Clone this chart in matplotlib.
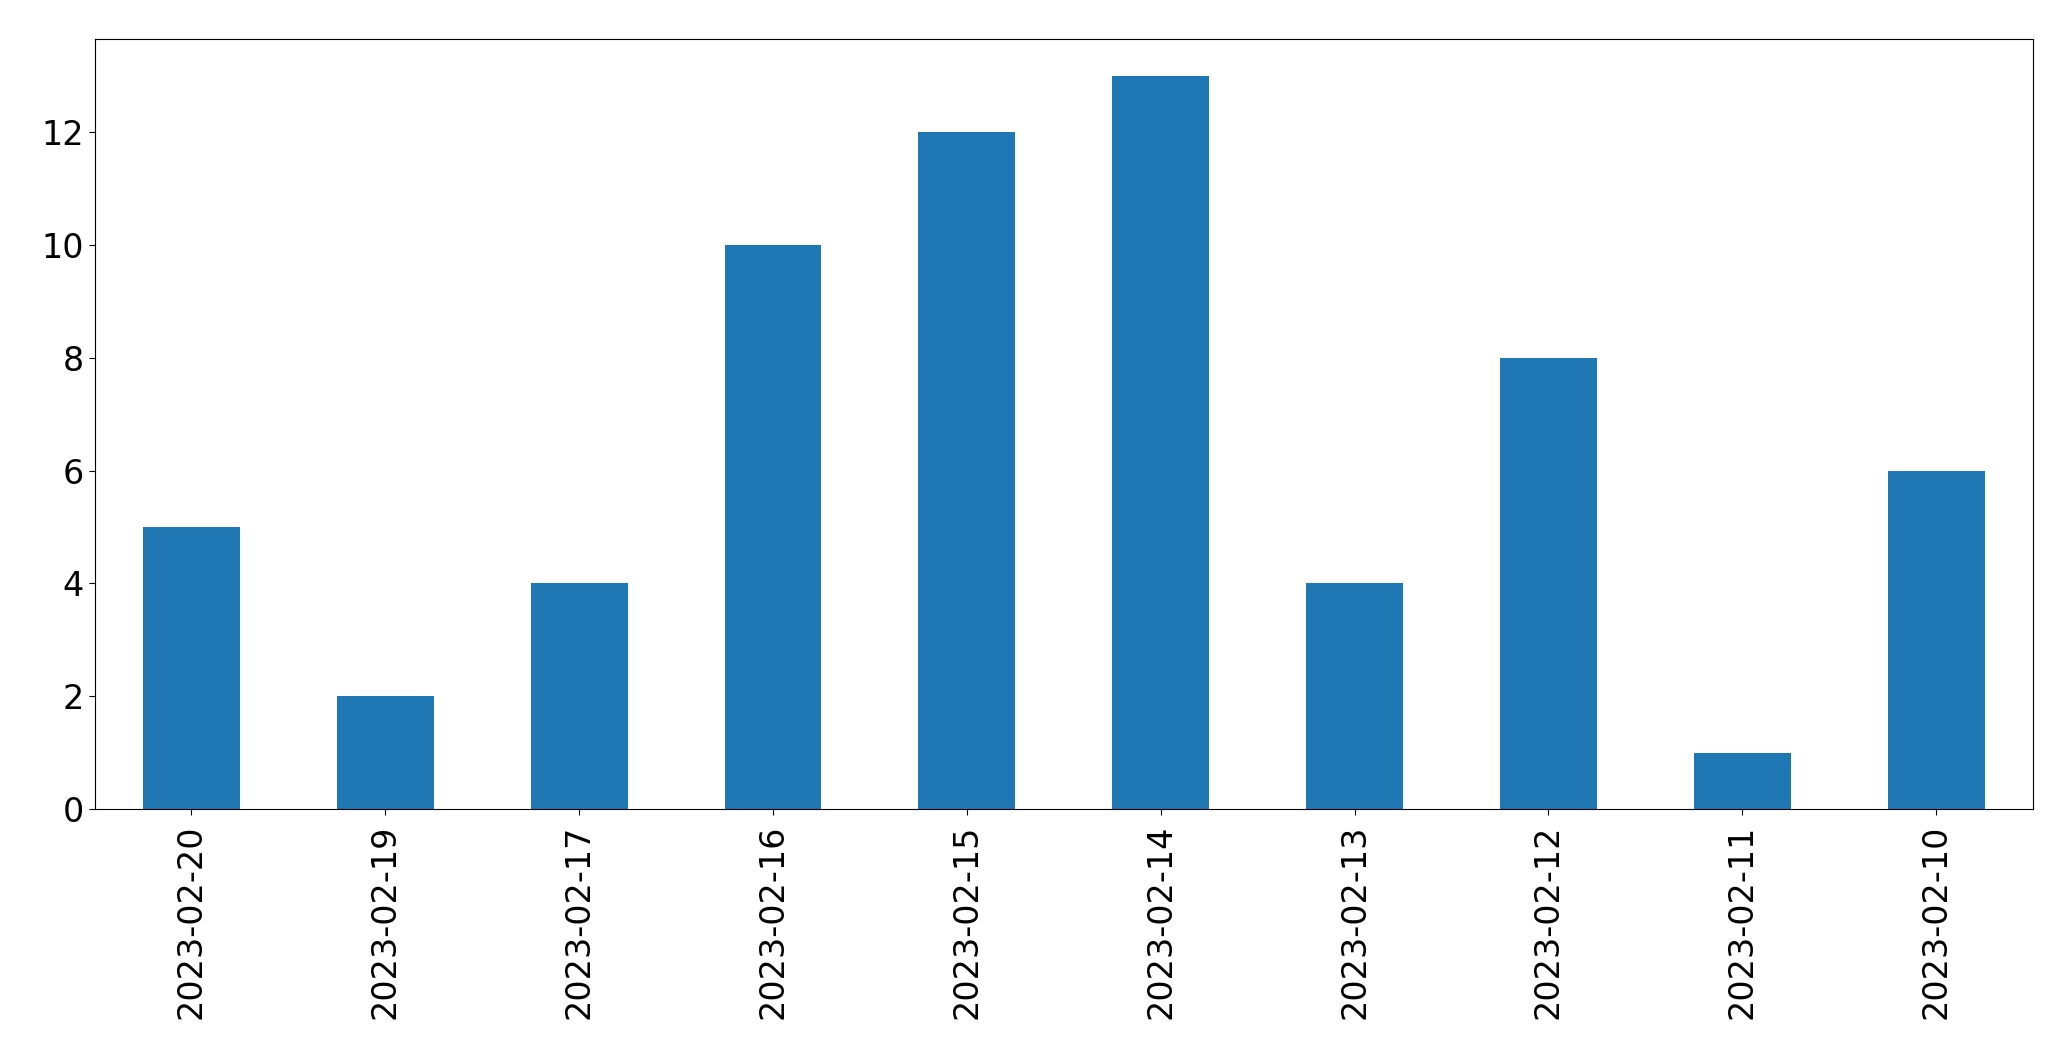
import matplotlib
matplotlib.use("Agg")
import matplotlib.pyplot as plt

dates = ["2023-02-20", "2023-02-19", "2023-02-17", "2023-02-16", "2023-02-15",
         "2023-02-14", "2023-02-13", "2023-02-12", "2023-02-11", "2023-02-10"]
counts = [5, 2, 4, 10, 12, 13, 4, 8, 1, 6]

fig = plt.figure(figsize=(20.71, 10.61), dpi=100)
ax = fig.add_axes([94.5/2071, 1 - 809/1061, (2033-94.5)/2071, (809-39)/1061])
x = range(len(dates))
ax.bar(x, counts, width=0.5, color="#1f77b4")
ax.set_xticks(list(x))
ax.set_xticklabels(dates, rotation=90)
ax.set_xlim(-0.5, len(dates) - 0.5)
ax.set_ylim(0, 13.65)
ax.tick_params(axis="both", labelsize=24, length=4)
ax.tick_params(axis="x", pad=7)
fig.savefig("out.png", dpi=100)
